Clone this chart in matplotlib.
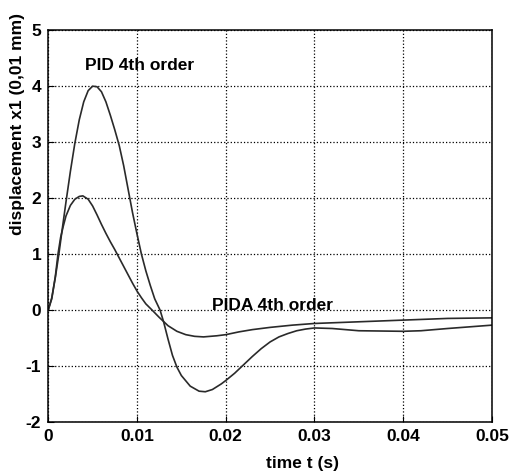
import numpy as np
import matplotlib.pyplot as plt

# PID 4th order response
t_pid = [0, 0.0004, 0.0008, 0.0012, 0.0016, 0.0020, 0.0025, 0.0030, 0.0035, 0.0040,
         0.0045, 0.0050, 0.0055, 0.0060, 0.0065, 0.0070, 0.0075, 0.0080, 0.0085, 0.0090,
         0.0095, 0.0100, 0.0105, 0.0110, 0.0115, 0.0120, 0.0126, 0.0130, 0.0135, 0.0140,
         0.0145, 0.0150, 0.0160, 0.0170, 0.0177, 0.0185, 0.0195, 0.0200, 0.0210, 0.0220,
         0.0230, 0.0240, 0.0250, 0.0260, 0.0270, 0.0280, 0.0290, 0.0300, 0.0320, 0.0350,
         0.0400, 0.0420, 0.0450, 0.0500]
x_pid = [0, 0.22, 0.58, 1.0, 1.47, 1.93, 2.48, 2.98, 3.40, 3.72,
         3.92, 4.0, 3.99, 3.9, 3.72, 3.48, 3.22, 2.94, 2.58, 2.16,
         1.74, 1.36, 1.0, 0.7, 0.44, 0.2, 0.0, -0.21, -0.52, -0.81,
         -1.02, -1.17, -1.36, -1.45, -1.46, -1.42, -1.32, -1.26, -1.13, -0.98,
         -0.83, -0.69, -0.57, -0.48, -0.42, -0.37, -0.34, -0.32, -0.33, -0.37,
         -0.38, -0.37, -0.33, -0.27]

# PIDA 4th order response
t_pida = [0, 0.0004, 0.0008, 0.0011, 0.0014, 0.0017, 0.0020, 0.0025, 0.0030, 0.0035,
          0.0039, 0.0045, 0.0050, 0.0055, 0.0060, 0.0065, 0.0070, 0.0075, 0.0080, 0.0085,
          0.0090, 0.0095, 0.0100, 0.0105, 0.0110, 0.0117, 0.0125, 0.0135, 0.0145, 0.0155,
          0.0165, 0.0175, 0.0190, 0.0200, 0.0215, 0.0230, 0.0250, 0.0275, 0.0300, 0.0350,
          0.0400, 0.0450, 0.0500]
x_pida = [0, 0.2, 0.6, 1.0, 1.3, 1.5, 1.68, 1.87, 1.98, 2.03,
          2.04, 1.98, 1.86, 1.70, 1.53, 1.37, 1.22, 1.08, 0.93, 0.78,
          0.63, 0.48, 0.34, 0.22, 0.11, 0.0, -0.13, -0.28, -0.38, -0.44,
          -0.47, -0.48, -0.46, -0.44, -0.39, -0.35, -0.31, -0.27, -0.24, -0.21,
          -0.18, -0.15, -0.14]

xticks = [0, 0.01, 0.02, 0.03, 0.04, 0.05]
xticklabels = ['0', '0.01', '0.02', '0.03', '0.04', '0.05']
yticks = [-2, -1, 0, 1, 2, 3, 4, 5]

plt.rcParams['font.family'] = ['Liberation Sans', 'DejaVu Sans']
plt.rcParams['font.weight'] = 'bold'
plt.rcParams['axes.labelweight'] = 'bold'
plt.rcParams['axes.unicode_minus'] = False

fig = plt.figure(figsize=(5.13, 4.72), dpi=100)
ax = fig.add_axes([0.094, 0.106, 0.865, 0.830])

ax.plot(t_pid, x_pid, color='#2a2a2a', lw=1.2)
ax.plot(t_pida, x_pida, color='#2a2a2a', lw=1.2)

ax.set_xlim(0, 0.05)
ax.set_ylim(-2, 5)
ax.set_xticks(xticks)
ax.set_xticklabels(xticklabels)
ax.set_yticks(yticks)
ax.tick_params(direction='in', length=4, labelsize=12.5, pad=5, colors='black')
ax.grid(True, color='black', linestyle=':', lw=0.9)
for s in ax.spines.values():
    s.set_linewidth(1.1)

ax.set_xlabel('time t (s)', fontsize=12.5, va='center')
ax.xaxis.set_label_coords(0.574, -0.105)
ax.set_ylabel('displacement x1 (0,01 mm)', fontsize=12.5, va='center')
ax.yaxis.set_label_coords(-0.07, 0.76)

ax.text(0.0103, 4.37, 'PID 4th order', fontsize=12.5, ha='center', va='center')
ax.text(0.0185, 0.08, 'PIDA 4th order', fontsize=12.5, ha='left', va='center')

fig.savefig('out.png', dpi=100)
